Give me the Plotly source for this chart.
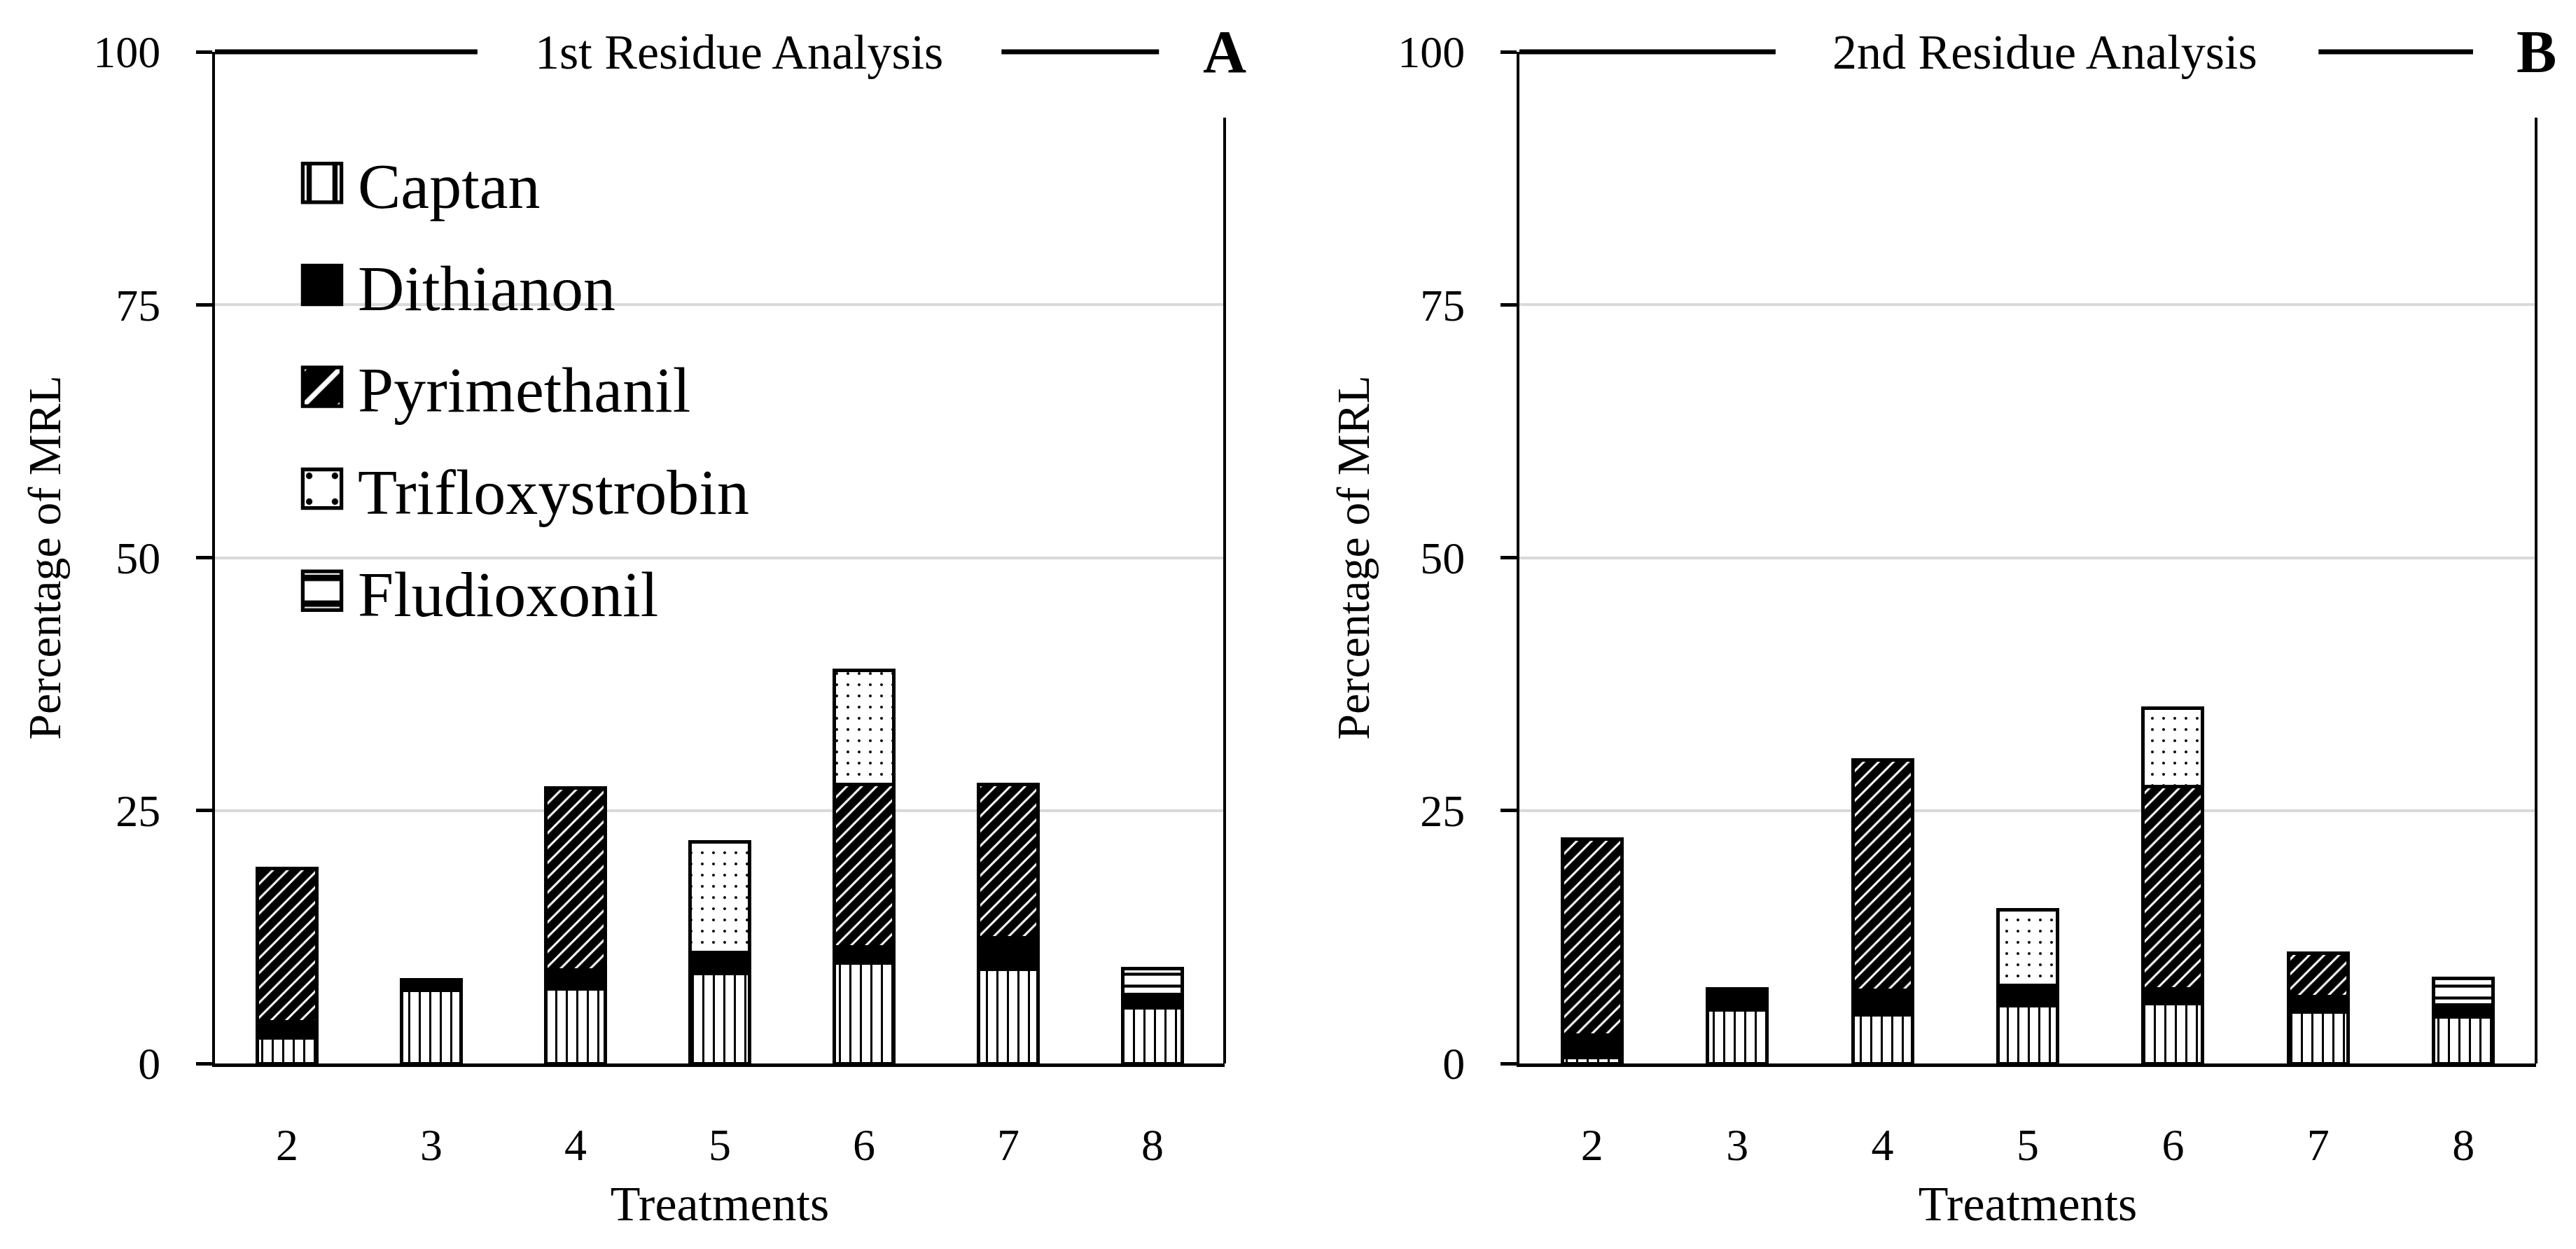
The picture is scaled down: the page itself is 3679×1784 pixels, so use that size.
import plotly.graph_objects as go

# ---------------- data ----------------
treatments = ["2", "3", "4", "5", "6", "7", "8"]
compounds = ["Captan", "Dithianon", "Pyrimethanil", "Trifloxystrobin", "Fludioxonil"]

# 1st residue analysis (% of MRL, stacked segments)
first_captan = [2.5, 7.2, 7.4, 8.9, 9.9, 9.3, 5.5]
first_dithianon = [1.6, 1.1, 1.85, 2.1, 1.65, 3.1, 1.3]
first_pyrimethanil = [15.2, 0, 17.95, 0, 16.05, 15.2, 0]
first_trifloxystrobin = [0, 0, 0, 10.9, 11.25, 0, 0]
first_fludioxonil = [0, 0, 0, 0, 0, 0, 2.6]

# 2nd residue analysis
second_captan = [0.6, 5.3, 4.8, 5.7, 5.9, 5.1, 4.6]
second_dithianon = [2.2, 2.05, 2.4, 2.0, 1.45, 1.5, 1.15]
second_pyrimethanil = [19.4, 0, 22.8, 0, 20.05, 4.3, 0]
second_trifloxystrobin = [0, 0, 0, 7.5, 7.7, 0, 0]
second_fludioxonil = [0, 0, 0, 0, 0, 0, 2.65]

panel_titles = ["1st Residue Analysis", "2nd Residue Analysis"]
panel_letters = ["A", "B"]
y_ticks = [0, 25, 50, 75, 100]
x_title = "Treatments"
y_title = "Percentage of MRL"

# ---------------- styling ----------------
FONT = "Liberation Serif"
styles = {
    "Captan": dict(color="black", pattern=dict(shape="|", fgcolor="black", bgcolor="white", size=15, solidity=0.2)),
    "Dithianon": dict(color="black", pattern=None),
    "Pyrimethanil": dict(color="white", pattern=dict(shape="/", fgcolor="white", bgcolor="black", size=15, solidity=0.2)),
    "Trifloxystrobin": dict(color="black", pattern=dict(shape=".", fgcolor="black", bgcolor="white", size=16, solidity=0.05)),
    "Fludioxonil": dict(color="black", pattern=dict(shape="-", fgcolor="black", bgcolor="white", size=17, solidity=0.25)),
}

panels = [
    [first_captan, first_dithianon, first_pyrimethanil, first_trifloxystrobin, first_fludioxonil],
    [second_captan, second_dithianon, second_pyrimethanil, second_trifloxystrobin, second_fludioxonil],
]

W, H = 3679, 1784
x_domains = [[299 / W, 1741 / W], [2162 / W, 3614 / W]]
y_domain = [1 - 1511 / H, 1 - 66 / H]

fig = go.Figure()
for p, series in enumerate(panels):
    xa = "x" if p == 0 else "x2"
    ya = "y" if p == 0 else "y2"
    for name, vals in zip(compounds, series):
        st = styles[name]
        marker = dict(color=st["color"], line=dict(color="black", width=5))
        if st["pattern"]:
            marker["pattern"] = st["pattern"]
        fig.add_trace(go.Bar(
            x=treatments, y=vals, name=name, marker=marker, width=0.41,
            xaxis=xa, yaxis=ya, legendgroup=name, showlegend=(p == 0),
        ))


def x_axis(domain, anchor):
    return dict(
        domain=domain, anchor=anchor, automargin=False,
        type="category", showline=True, linecolor="black", linewidth=5, ticks="",
        tickfont=dict(family=FONT, size=64, color="black"), ticklabelstandoff=56,
        title=dict(text=x_title, font=dict(family=FONT, size=70, color="black"), standoff=26),
        showgrid=False, zeroline=False, range=[-0.5, 6.5],
    )


def y_axis(domain, anchor, standoff):
    return dict(
        domain=domain, anchor=anchor, automargin=False,
        range=[0, 100], tickvals=y_ticks, showline=True, linecolor="black", linewidth=4,
        ticks="outside", ticklen=23, tickwidth=5, tickcolor="black",
        tickfont=dict(family=FONT, size=64, color="black"), ticklabelstandoff=38,
        title=dict(text=y_title, font=dict(family=FONT, size=66, color="black"), standoff=standoff),
        showgrid=True, gridcolor="#d9d9d9", gridwidth=4, zeroline=False,
    )


def y_inner_ticks(overlay, anchor):
    # inner half of the cross-style tick marks
    return dict(
        overlaying=overlay, anchor=anchor, side="left", automargin=False,
        range=[0, 100], tickvals=y_ticks, ticks="inside", ticklen=22, tickwidth=5,
        tickcolor="black", showticklabels=False, showgrid=False, showline=False,
        zeroline=False,
    )


fig.update_layout(
    template="none",
    width=W, height=H, barmode="stack",
    paper_bgcolor="white", plot_bgcolor="white",
    margin=dict(l=0, r=0, t=0, b=0, pad=0),
    xaxis=x_axis(x_domains[0], "y"),
    yaxis=y_axis(y_domain, "x", 26),
    xaxis2=x_axis(x_domains[1], "y2"),
    yaxis2=y_axis(y_domain, "x2", 20),
    yaxis3=y_inner_ticks("y", "x"),
    yaxis4=y_inner_ticks("y2", "x2"),
    legend=dict(
        x=401 / W, y=1 - 187 / H, xanchor="left", yanchor="top",
        font=dict(family=FONT, size=92, color="black"),
        bgcolor="rgba(0,0,0,0)", borderwidth=0, itemwidth=92, tracegroupgap=23,
        itemclick=False, itemdoubleclick=False,
    ),
    showlegend=True,
)

# frame pieces (Excel-style plot-area border broken by the title and panel letter)
frame = [
    # (top-left end, title centre, top-right start, top-right end)
    (0.26, 0.519, 0.779, 0.935),
    (0.252, 0.517, 0.786, 0.938),
]
for p, (tl_end, t_mid, tr_start, tr_end) in enumerate(frame):
    xr = "x domain" if p == 0 else "x2 domain"
    yr = "y domain" if p == 0 else "y2 domain"
    line = dict(color="black", width=7)
    fig.add_shape(type="line", xref=xr, yref=yr, x0=0, x1=tl_end, y0=1, y1=1, line=line)
    fig.add_shape(type="line", xref=xr, yref=yr, x0=tr_start, x1=tr_end, y0=1, y1=1, line=line)
    fig.add_shape(type="line", xref=xr, yref=yr, x0=1, x1=1, y0=0, y1=0.935,
                  line=dict(color="black", width=4))
    fig.add_annotation(xref=xr, yref=yr, x=t_mid, y=1, text=panel_titles[p], showarrow=False,
                       xanchor="center", yanchor="middle",
                       font=dict(family=FONT, size=70, color="black"))
    fig.add_annotation(xref=xr, yref=yr, x=1, y=1, text="<b>" + panel_letters[p] + "</b>",
                       showarrow=False, xanchor="center", yanchor="middle",
                       font=dict(family=FONT, size=86, color="black"))

post = """
var gd = document.getElementById('{plot_id}');
function bigSwatches(){
  gd.querySelectorAll('.legend .legendpoints path').forEach(function(p){
    var t = p.getAttribute('transform') || '';
    if (t.indexOf('scale') < 0) { p.setAttribute('transform', t + ' scale(4.6)'); }
    p.style.strokeWidth = '1.15px';
  });
}
bigSwatches();
gd.on('plotly_afterplot', bigSwatches);
"""

fig.write_html("out.html", post_script=post)
